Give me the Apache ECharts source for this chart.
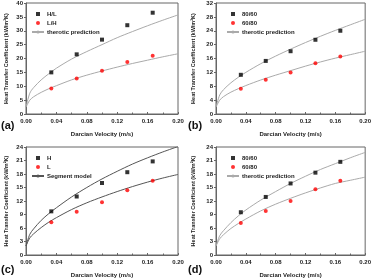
<!DOCTYPE html>
<html>
<head>
<meta charset="utf-8">
<script src="https://cdn.jsdelivr.net/npm/echarts@6/dist/echarts.min.js"></script>
</head>
<body style="margin:0">
<div id="main" style="width:374px;height:279px"></div>
<script>
// measured velocities (m/s)
var velocity = [0.0333, 0.0667, 0.1, 0.1333, 0.1667];
// curve sample positions
var curveV = [0, 0.005, 0.01, 0.02, 0.03, 0.04, 0.06, 0.08, 0.10, 0.12, 0.14, 0.16, 0.18, 0.20];

// (a)
var aHL = [15, 21.5, 26.8, 32, 36.5];
var aLH = [9.2, 12.8, 15.6, 18.7, 21];
var aCurveHi = [2.5, 7.5, 9.5, 12.3, 14.5, 16.5, 19.8, 22.5, 25, 27.5, 29.7, 31.8, 33.8, 35.7];
var aCurveLo = [2.5, 5, 6.2, 7.8, 9.1, 10.2, 12.3, 14, 15.5, 16.9, 18.2, 19.4, 20.6, 21.7];
// (b)
var b8060 = [11.3, 15.3, 18.1, 21.4, 24];
var b6080 = [7.3, 9.9, 12, 14.6, 16.6];
var bCurveHi = [2, 5.5, 7, 9, 10.6, 12, 14.5, 16.7, 18.7, 20.6, 22.4, 24.1, 25.7, 27.3];
var bCurveLo = [2, 4, 5, 6.3, 7.3, 8.2, 9.8, 11.2, 12.5, 13.8, 15, 16.1, 17.1, 18.1];
// (c)
var cH = [9.7, 13, 16, 18.4, 20.8];
var cL = [7.3, 9.6, 11.7, 14.4, 16.5];
var cCurveHi = [2, 4.6, 5.8, 7.7, 9.2, 10.5, 12.9, 15, 16.9, 18.6, 20.2, 21.6, 22.9, 24.1];
var cCurveLo = [2, 3.8, 4.7, 6.1, 7.3, 8.3, 10.1, 11.6, 12.9, 14.1, 15.2, 16.2, 17.1, 17.9];
// (d)
var d8060 = [9.5, 12.9, 15.9, 18.3, 20.7];
var d6080 = [7.1, 9.8, 12, 14.6, 16.5];
var dCurveHi = [2, 4.3, 5.4, 7.2, 8.7, 10, 12.2, 14.1, 15.9, 17.5, 19, 20.3, 21.6, 22.8];
var dCurveLo = [2, 3.6, 4.5, 5.9, 7, 8, 9.8, 11.3, 12.6, 13.8, 14.9, 15.9, 16.6, 17.3];

var yMax = [40, 32, 24, 24];
var yStep = [5, 4, 3, 3];
var panelLabels = ['(a)', '(b)', '(c)', '(d)'];

function pairs(xs, ys) {
    return xs.map(function (x, i) { return [x, ys[i]]; });
}

var font = 'Liberation Sans';
var grids = [
    {left: 26, right: 196, top: 3, bottom: 165},
    {left: 216, right: 6, top: 3, bottom: 165},
    {left: 26, right: 196, top: 147, bottom: 21},
    {left: 216, right: 6, top: 147, bottom: 21}
];
grids.forEach(function (g) {
    g.show = true;
    g.borderColor = '#666';
    g.borderWidth = 1;
});

var xAxes = [], yAxes = [];
for (var i = 0; i < 4; i++) {
    xAxes.push({
        gridIndex: i, type: 'value', min: 0, max: 0.2, interval: 0.04,
        name: 'Darcian Velocity (m/s)', nameLocation: 'middle', nameGap: 17,
        nameTextStyle: {fontFamily: font, fontSize: 6, fontWeight: 'bold', color: '#222'},
        axisLine: {lineStyle: {color: '#666'}},
        axisTick: {inside: true, length: 2, lineStyle: {color: '#666'}},
        minorTick: {show: true, splitNumber: 2, length: 1.5, lineStyle: {color: '#666'}},
        splitLine: {show: false},
        axisLabel: {fontFamily: font, fontSize: 6, fontWeight: 'bold', color: '#222', margin: 4,
            formatter: function (v) { return v.toFixed(2); }}
    });
    yAxes.push({
        gridIndex: i, type: 'value', min: 0, max: yMax[i], interval: yStep[i],
        name: 'Heat Transfer Coefficient (kW/m\u00b2K)', nameLocation: 'middle', nameGap: i % 2 ? 20 : 17,
        nameTextStyle: {fontFamily: font, fontSize: 5.5, fontWeight: 'bold', color: '#222'},
        axisLine: {show: true, lineStyle: {color: '#666'}},
        axisTick: {length: 2, lineStyle: {color: '#666'}},
        splitLine: {show: false},
        axisLabel: {fontFamily: font, fontSize: 6, fontWeight: 'bold', color: '#222', margin: 3}
    });
}

function scatter(name, idx, data, color, shape) {
    return {
        name: name, type: 'scatter', xAxisIndex: idx, yAxisIndex: idx,
        data: pairs(velocity, data), symbol: shape, symbolSize: 4,
        itemStyle: {color: color}, z: 5
    };
}
function curve(name, idx, data, color) {
    return {
        name: name, type: 'line', xAxisIndex: idx, yAxisIndex: idx,
        data: pairs(curveV, data), smooth: 0.3, symbol: 'none',
        lineStyle: {color: color, width: 1}, itemStyle: {color: color}
    };
}

var light = '#aaa', dark = '#555';
var series = [
    scatter('H/L', 0, aHL, '#000', 'rect'),
    scatter('L/H', 0, aLH, '#f00', 'circle'),
    curve('therotic prediction', 0, aCurveHi, light),
    curve('therotic prediction', 0, aCurveLo, light),
    scatter('80/60', 1, b8060, '#000', 'rect'),
    scatter('60/80', 1, b6080, '#f00', 'circle'),
    curve('therotic prediction', 1, bCurveHi, light),
    curve('therotic prediction', 1, bCurveLo, light),
    scatter('H', 2, cH, '#000', 'rect'),
    scatter('L', 2, cL, '#f00', 'circle'),
    curve('Segment model', 2, cCurveHi, dark),
    curve('Segment model', 2, cCurveLo, dark),
    scatter('80/60', 3, d8060, '#000', 'rect'),
    scatter('60/80', 3, d6080, '#f00', 'circle'),
    curve('therotic prediction', 3, dCurveHi, light),
    curve('therotic prediction', 3, dCurveLo, light)
];

var legendNames = [
    ['H/L', 'L/H', 'therotic prediction'],
    ['80/60', '60/80', 'therotic prediction'],
    ['H', 'L', 'Segment model'],
    ['80/60', '60/80', 'therotic prediction']
];
var legendPos = [[31, 11], [226, 11], [31, 155], [226, 155]];
var legends = legendNames.map(function (names, i) {
    return {
        orient: 'vertical', left: legendPos[i][0], top: legendPos[i][1],
        itemWidth: 12, itemHeight: 4, itemGap: 3, padding: 0,
        selectedMode: false,
        textStyle: {fontFamily: font, fontSize: 6, fontWeight: 'bold', color: '#222', padding: [0, 0, 0, -2]},
        data: names.map(function (n, k) {
            if (k === 0) return {name: n, icon: 'path://M0,0h1v1h-1z'};
            if (k === 1) return {name: n, icon: 'circle'};
            return {name: n};
        })
    };
});

var labelPos = [[1, 120], [188, 120], [1, 264], [188, 264]];
var graphics = panelLabels.map(function (t, i) {
    return {
        type: 'text', left: labelPos[i][0], top: labelPos[i][1],
        style: {text: t, font: 'bold 11px "Liberation Sans"', fill: '#111'}
    };
});

var chart = echarts.init(document.getElementById('main'));
chart.setOption({
    animation: false,
    backgroundColor: '#fff',
    grid: grids,
    xAxis: xAxes,
    yAxis: yAxes,
    legend: legends,
    graphic: graphics,
    series: series
});
</script>
</body>
</html>
